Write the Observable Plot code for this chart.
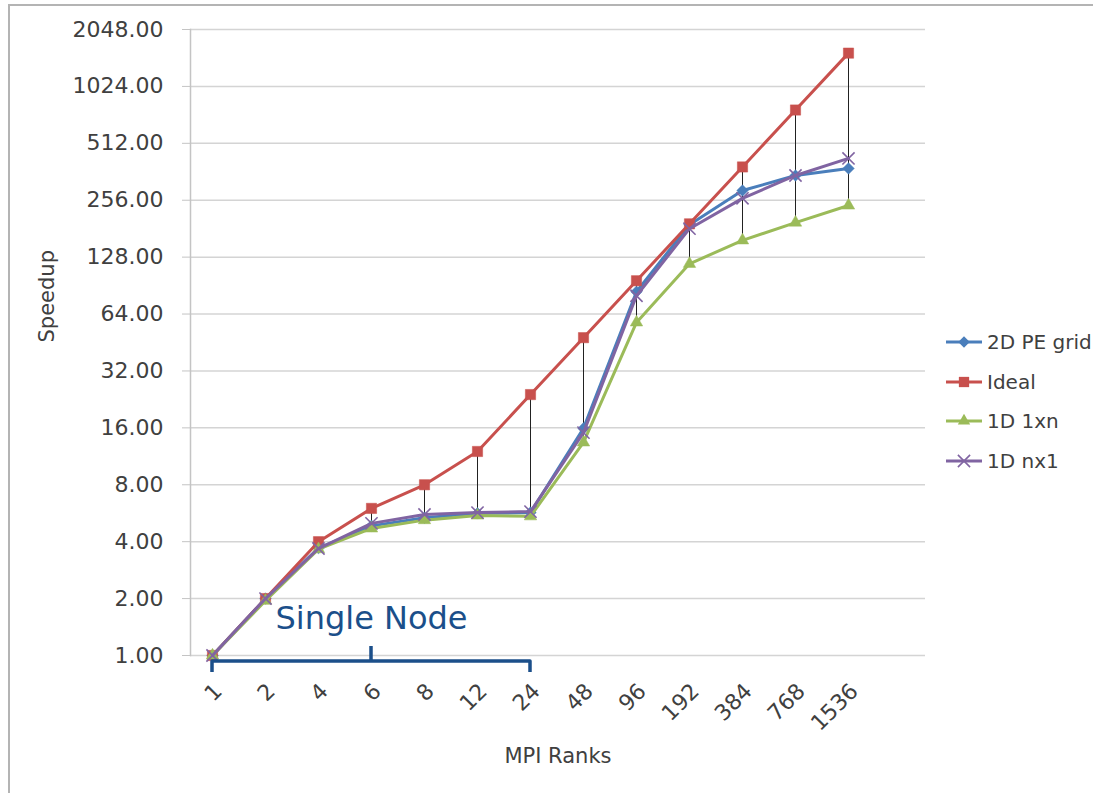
<!DOCTYPE html>
<html><head><meta charset="utf-8">
<script src="https://cdn.jsdelivr.net/npm/d3@7"></script>
<script src="https://cdn.jsdelivr.net/npm/@observablehq/plot@0.6"></script>
<style>
body{margin:0;background:#fff;font-family:"DejaVu Sans",sans-serif;}
#wrap{position:relative;width:1093px;height:793px;overflow:hidden;background:#fff;}
#border{position:absolute;left:8px;top:4px;width:1200px;height:900px;border-top:2px solid #b4b4b4;border-left:2px solid #b4b4b4;}
#chart{position:absolute;left:0;top:0;}
#legend{position:absolute;left:944px;top:322px;}
.item{display:flex;align-items:center;height:39.7px;font-size:20px;color:#404040;white-space:nowrap;}
.item svg{margin-right:3px;}
</style></head><body>
<div id="wrap"><div id="border"></div><div id="chart"></div><div id="legend"></div></div>
<script>
const ranks = ["1","2","4","6","8","12","24","48","96","192","384","768","1536"];
const pe2d  = [1, 2, 3.70, 4.85, 5.35, 5.65, 5.70, 15.9, 84, 190, 288, 346, 377];
const ideal = [1, 2, 4, 6, 8, 12, 24, 48, 96, 192, 384, 768, 1536];
const d1xn  = [1, 1.95, 3.65, 4.70, 5.20, 5.50, 5.45, 13.4, 57.8, 118, 157, 195, 240];
const dnx1  = [1, 2, 3.68, 5.00, 5.57, 5.70, 5.77, 15.1, 80, 181, 262, 346, 426];
const seriesNames = ["2D PE grid", "Ideal", "1D 1xn", "1D nx1"];
const seriesColors = ["#4a7ebb", "#c8504d", "#9bbb59", "#8064a2"];
const seriesSymbols = ["diamond2", "square", "triangle", "times"];
const seriesRadius = [5.2, 5.8, 4.6, 5.6];
const yTicks = [1, 2, 4, 8, 16, 32, 64, 128, 256, 512, 1024, 2048];
const xTitle = "MPI Ranks";
const yTitle = "Speedup";
const noteText = "Single Node";

const allSeries = [pe2d, ideal, d1xn, dnx1];
const rows = [];
allSeries.forEach((vals, s) => vals.forEach((v, i) => rows.push({series: seriesNames[s], rank: ranks[i], value: v, s})));
const hiLo = ranks.map((r, i) => ({rank: r, lo: d3.min(allSeries, a => a[i]), hi: d3.max(allSeries, a => a[i])}));

const seriesMarks = [];
seriesNames.forEach((name, s) => {
  const data = rows.filter(d => d.s === s);
  seriesMarks.push(Plot.line(data, {x: "rank", y: "value", stroke: seriesColors[s], strokeWidth: 3}));
  const sym = seriesSymbols[s];
  if (sym === "times") {
    seriesMarks.push(Plot.dot(data, {x: "rank", y: "value", symbol: sym, r: seriesRadius[s], stroke: seriesColors[s], strokeWidth: 1.6}));
  } else {
    seriesMarks.push(Plot.dot(data, {x: "rank", y: "value", symbol: sym, r: seriesRadius[s], fill: seriesColors[s], stroke: seriesColors[s], strokeWidth: 0.5}));
  }
});

const bracket = (index, scales, values, dims) => {
  const x0 = scales.x("1"), x1 = scales.x("24"), xm = scales.x("6");
  const yb = dims.height - dims.marginBottom;
  const d = `M${x0},${yb + 17}V${yb + 6}H${x1}V${yb + 17}M${xm},${yb + 6}V${yb - 9}`;
  return d3.create("svg:path").attr("d", d).attr("fill", "none")
    .attr("stroke", "#1b4f8a").attr("stroke-width", 3.5).attr("stroke-linejoin", "round").node();
};

const chart = Plot.plot({
  width: 1093,
  height: 793,
  marginLeft: 190,
  marginRight: 168,
  marginTop: 29,
  marginBottom: 138,
  style: {fontFamily: "DejaVu Sans", fontSize: "22px", background: "transparent", color: "#404040"},
  x: {type: "point", domain: ranks, range: [208, 851], padding: 0},
  y: {type: "log", base: 2, domain: [1, 2048]},
  marks: [
    Plot.ruleY(yTicks, {stroke: "#d4d4d4", strokeWidth: 1.5}),
    Plot.axisY(yTicks, {tickFormat: d3.format(".2f"), tickSize: 8, tickPadding: 19, stroke: "#c4c4c4", fill: "#404040", fontSize: 22, label: null}),
    Plot.frame({anchor: "left", stroke: "#c4c4c4", strokeWidth: 1.5}),
    Plot.axisX({tickSize: 0, tickRotate: -45, tickPadding: 32, dx: 6, fill: "#404040", fontSize: 22, label: null}),
    Plot.ruleX(hiLo, {x: "rank", y1: "lo", y2: "hi", stroke: "#222", strokeWidth: 1}),
    ...seriesMarks,
    bracket,
    Plot.text([noteText], {x: () => "6", frameAnchor: "bottom", dy: -27, fontSize: 32, fill: "#1b4f8a"}),
    Plot.text([xTitle], {frameAnchor: "bottom", dy: 107, fontSize: 21, fill: "#404040"}),
    Plot.text([yTitle], {frameAnchor: "left", dx: -143, rotate: -90, fontSize: 21, fill: "#404040"})
  ]
});
document.getElementById("chart").appendChild(chart);

const legend = document.getElementById("legend");
seriesNames.forEach((name, s) => {
  const item = document.createElement("div");
  item.className = "item";
  const svg = d3.create("svg").attr("width", 40).attr("height", 20);
  svg.append("line").attr("x1", 2).attr("x2", 38).attr("y1", 10).attr("y2", 10).attr("stroke", seriesColors[s]).attr("stroke-width", 3);
  const symMap = {diamond2: d3.symbolDiamond2, square: d3.symbolSquare, triangle: d3.symbolTriangle, times: d3.symbolTimes};
  const size = Math.PI * seriesRadius[s] * seriesRadius[s];
  const p = svg.append("path").attr("transform", "translate(20,10)").attr("d", d3.symbol(symMap[seriesSymbols[s]], size)());
  if (seriesSymbols[s] === "times") p.attr("fill", "none").attr("stroke", seriesColors[s]).attr("stroke-width", 1.6);
  else p.attr("fill", seriesColors[s]);
  item.appendChild(svg.node());
  const t = document.createElement("span");
  t.textContent = name;
  item.appendChild(t);
  legend.appendChild(item);
});
</script>
</body></html>
